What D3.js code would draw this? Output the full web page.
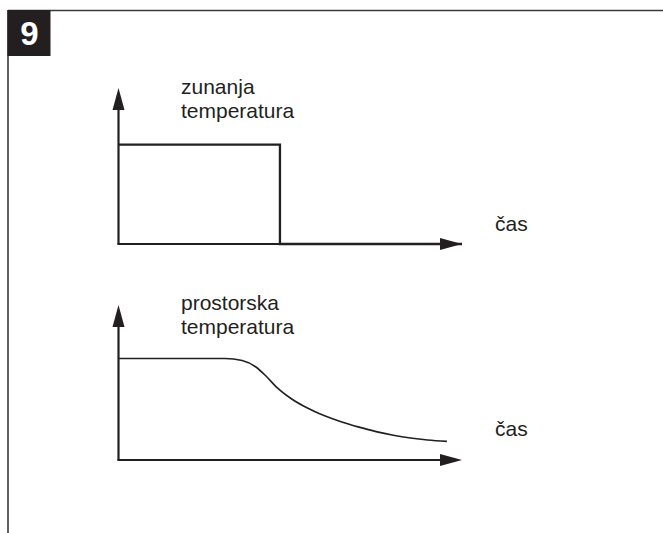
<!DOCTYPE html>
<html>
<head>
<meta charset="utf-8">
<script src="https://cdn.jsdelivr.net/npm/d3@7"></script>
<style>
  html, body { margin: 0; padding: 0; background: #fff; }
  svg { display: block; }
  text { font-family: "Liberation Sans", Arial, Helvetica, sans-serif; fill: #231f20; }
</style>
</head>
<body>
<svg id="fig" width="663" height="533"></svg>
<script>
// Figure number
const figureNumber = "9";

// Axis captions (two-line y captions, time caption)
const outsideLabel = ["zunanja", "temperatura"];
const roomLabel = ["prostorska", "temperatura"];
const timeLabel = "čas";

// Shared domains (arbitrary units of time and temperature)
const timeDomain = [0, 10];
const tempDomain = [0, 10];

// Outside temperature: a step that drops to zero
const outsideTime = [0, 4.7, 10];
const outsideTemp = [6.37, 0, 0];

// Room temperature: stays level, then decays slowly
const roomTime = [0, 3.1, 3.6, 4.0, 4.3, 4.6, 5.0, 5.5, 6.0, 6.5, 7.0, 7.5, 8.0, 8.5, 9.0, 9.56];
const roomTemp = [6.55, 6.55, 6.42, 6.0, 5.4, 4.7, 4.0, 3.35, 2.85, 2.45, 2.12, 1.83, 1.6, 1.42, 1.29, 1.2];

const ink = "#231f20";
const svg = d3.select("#fig");

// Frame: top and left rules plus the numbered tab
svg.append("line").attr("x1", 8).attr("y1", 10.5).attr("x2", 663).attr("y2", 10.5)
  .attr("stroke", "#3a3a3a").attr("stroke-width", 1.6);
svg.append("line").attr("x1", 8).attr("y1", 10).attr("x2", 8).attr("y2", 533)
  .attr("stroke", "#3a3a3a").attr("stroke-width", 1.6);
svg.append("rect").attr("x", 7.5).attr("y", 10).attr("width", 43).attr("height", 46).attr("fill", ink);
svg.append("text").attr("x", 29.5).attr("y", 44.5).attr("text-anchor", "middle")
  .style("fill", "#fff").style("font-weight", "bold").style("font-size", "33px").text(figureNumber);

function panel(originY, tipY, times, temps, yLabel, curve, lineWidth, labelY, timeLabelY) {
  const x = d3.scaleLinear().domain(timeDomain).range([118.5, 462]);
  const y = d3.scaleLinear().domain(tempDomain).range([originY, tipY]);
  const g = svg.append("g");
  const headLen = 22, headHalf = 6;

  // Data line
  const pts = times.map((t, i) => [t, temps[i]]);
  g.append("path").datum(pts)
    .attr("d", d3.line().x(d => x(d[0])).y(d => y(d[1])).curve(curve))
    .attr("fill", "none").attr("stroke", ink).attr("stroke-width", lineWidth)
    .attr("stroke-linejoin", "miter");

  const x0 = x(timeDomain[0]), x1 = x(timeDomain[1]);
  const y0 = y(tempDomain[0]), y1 = y(tempDomain[1]);

  // Axes with arrowheads
  g.append("line").attr("x1", x0).attr("y1", y0).attr("x2", x0).attr("y2", y1 + headLen - 1)
    .attr("stroke", ink).attr("stroke-width", 2.2);
  g.append("line").attr("x1", x0 - 1.1).attr("y1", y0).attr("x2", x1 - headLen + 1).attr("y2", y0)
    .attr("stroke", ink).attr("stroke-width", 2.2);
  g.append("path")
    .attr("d", `M${x0},${y1}L${x0 - headHalf},${y1 + headLen}L${x0 + headHalf},${y1 + headLen}Z`)
    .attr("fill", ink);
  g.append("path")
    .attr("d", `M${x1},${y0}L${x1 - headLen},${y0 - headHalf}L${x1 - headLen},${y0 + headHalf}Z`)
    .attr("fill", ink);

  // Y caption
  const cap = g.append("text").attr("x", 181).attr("y", labelY).style("font-size", "21px");
  yLabel.forEach((s, i) => cap.append("tspan").attr("x", 181).attr("dy", i === 0 ? 0 : 23.5).text(s));

  // Time caption
  g.append("text").attr("x", 495).attr("y", timeLabelY).style("font-size", "21px").text(timeLabel);
}

panel(244, 88, outsideTime, outsideTemp, outsideLabel, d3.curveStepAfter, 2.3, 94, 231);
panel(460, 305, roomTime, roomTemp, roomLabel, d3.curveMonotoneX, 1.6, 310, 436);
</script>
</body>
</html>
